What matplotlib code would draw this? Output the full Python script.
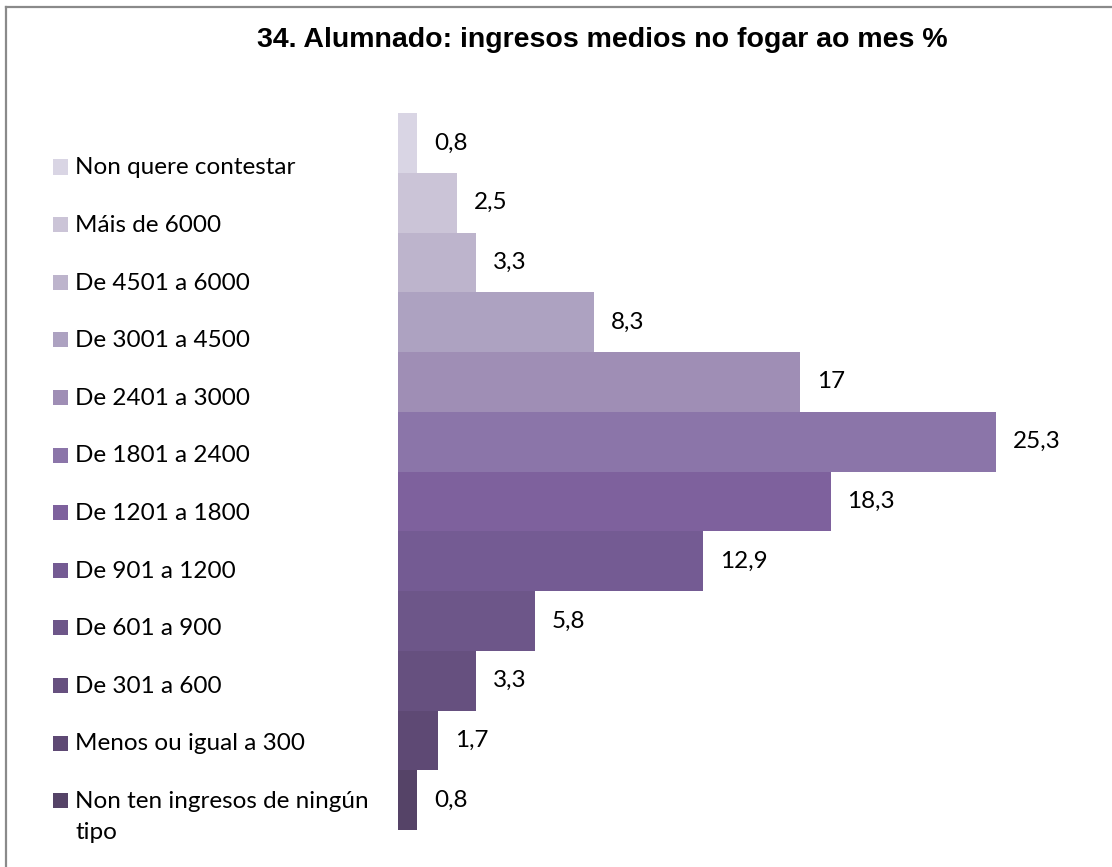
"""Horizontal bar chart: student household monthly income (%)."""

import matplotlib

matplotlib.use("Agg")

from matplotlib import pyplot as plt
from matplotlib.lines import Line2D
from matplotlib.patches import Rectangle

# Categories from bottom to top of the chart.
categories = [
    "Non ten ingresos de ningún\ntipo",
    "Menos ou igual a 300",
    "De 301 a 600",
    "De 601 a 900",
    "De 901 a 1200",
    "De 1201 a 1800",
    "De 1801 a 2400",
    "De 2401 a 3000",
    "De 3001 a 4500",
    "De 4501 a 6000",
    "Máis de 6000",
    "Non quere contestar",
]
values = [0.8, 1.7, 3.3, 5.8, 12.9, 18.3, 25.3, 17, 8.3, 3.3, 2.5, 0.8]
colors = [
    "#554367", "#5E4974", "#66507F", "#6D5689", "#745B93", "#7E619D",
    "#8B75A9", "#9F8EB5", "#ADA2C1", "#BDB4CC", "#CBC4D7", "#D9D5E4",
]

W, H = 1112, 867
FONT = "Lato"
FS = 17.5

fig = plt.figure(figsize=(W / 100, H / 100), dpi=100)
ax = fig.add_axes([398 / W, 37 / H, 702 / W, 717 / H])

positions = list(range(len(values)))
ax.barh(positions, values, height=1.0, color=colors, linewidth=0)
ax.set_xlim(0, 29.7)
ax.set_ylim(-0.5, len(values) - 0.5)
ax.axis("off")

# Data labels with comma as decimal separator.
for pos, val in zip(positions, values):
    label = f"{val:g}".replace(".", ",")
    ax.annotate(label, (val, pos), xytext=(17, 0), textcoords="offset pixels",
                ha="left", va="center", fontsize=FS, family=FONT, color="black")

fig.text(602 / W, 1 - 40 / H, "34. Alumnado: ingresos medios no fogar ao mes %",
         ha="center", va="center", fontsize=20.5, fontweight="bold",
         family="Liberation Sans")

# Legend drawn by hand: top entry first.
for i, (name, col) in enumerate(zip(categories[::-1], colors[::-1])):
    y = 1 - (167 + i * 57.6) / H
    fig.add_artist(Rectangle((53 / W, y - 7.5 / H), 15 / W, 15 / H,
                             transform=fig.transFigure, color=col, lw=0))
    fig.text(75 / W, y + 9.5 / H, name, ha="left", va="top", fontsize=FS,
             family=FONT, linespacing=1.58)

# Chart border (only the top and left edges are in frame).
border = "#8a8a8a"
fig.add_artist(Line2D([6 / W, 1], [1 - 7 / H] * 2, transform=fig.transFigure,
                      color=border, lw=1.6))
fig.add_artist(Line2D([6 / W] * 2, [1 - 7 / H, 0], transform=fig.transFigure,
                      color=border, lw=1.6))

fig.savefig("out.png", dpi=100, facecolor="white")
